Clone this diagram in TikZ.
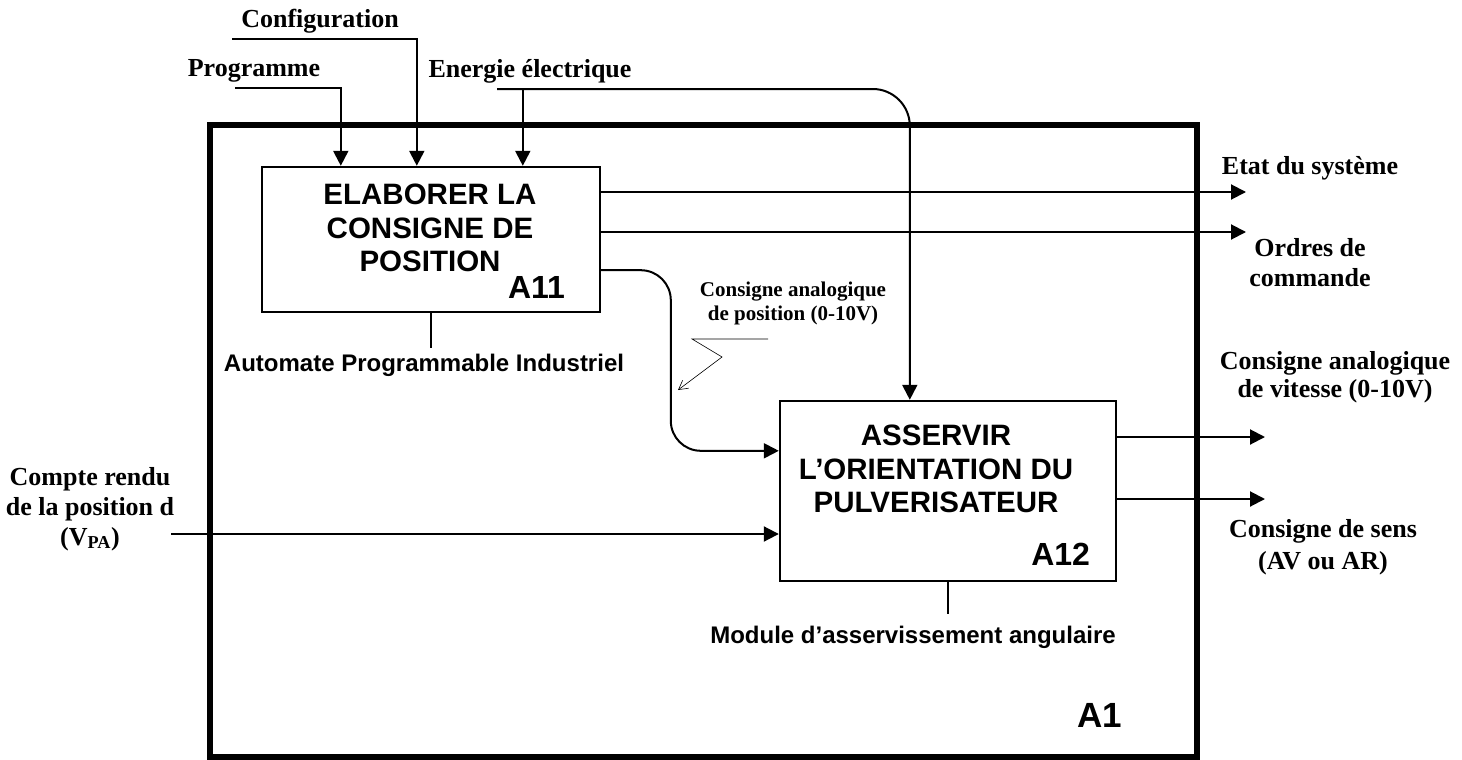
\documentclass[tikz,border=0pt]{standalone}
\usepackage{fontspec}
\setmainfont{Liberation Serif}
\setsansfont{Liberation Sans}
\usetikzlibrary{arrows.meta,calc,positioning}
\tikzset{%
	activity/.style = {draw, rectangle, line width=2.4pt, inner sep=0pt}, % boite A-0
	frame/.style    = {draw, rectangle, line width=6pt, inner sep=0pt}, % cadre A1
	title/.style    = {align=center, font=\sffamily\bfseries\fontsize{29.5}{33.5}\selectfont},
	code/.style     = {inner sep=0pt, font=\sffamily\bfseries\fontsize{32}{36}\selectfont},
	flow/.style     = {align=center, font=\bfseries\fontsize{26}{30}\selectfont},
	mech/.style     = {font=\sffamily\bfseries\fontsize{24}{28}\selectfont},
	note/.style     = {align=center, font=\bfseries\fontsize{21}{24}\selectfont},
	link/.style     = {line width=2pt},
	callout/.style  = {line width=0.6pt, -{Straight Barb[length=9pt,width=10pt]}},
}

\begin{document}
\begin{tikzpicture}[x=1pt,y=-1pt,>={Triangle[length=15pt,width=15pt]}]
	\useasboundingbox (0,0) rectangle (1462,760);

	% cadre et boites
	\node [frame,minimum width=987pt,minimum height=632pt] (a1) at (703.5,441) {};
	\node [code,font=\sffamily\bfseries\fontsize{35}{40}\selectfont,above left=32pt and 78pt of a1.south east] (a1num) {A1};
	\node [activity,minimum width=338pt,minimum height=145pt] (a11) at (431,239.5) {};
	\node [title] (a11txt) at (430,228) {ELABORER LA\\CONSIGNE DE\\POSITION};
	\node [code,above left=15pt and 36pt of a11.south east] (a11num) {A11};
	\node [activity,minimum width=336pt,minimum height=180pt] (a12) at (948,491) {};
	\node [title] (a12txt) at (936,469) {ASSERVIR\\L’ORIENTATION DU\\PULVERISATEUR};
	\node [code,above left=17pt and 27pt of a12.south east] (a12num) {A12};

	% entrees et controles
	\node [flow] (config) at (320,21) {Configuration};
	\node [flow] (prog) at (254,71) {Programme};
	\node [flow] (energie) at (530,71) {Energie électrique};
	\node [flow] (cr) at (90,509) {Compte rendu\\de la position d\\(V\textsubscript{PA})};
	\coordinate (configin) at (232,39);
	\coordinate (progin) at (235,88);
	\coordinate (enin) at (497,89);
	\coordinate (crin) at (171,534);
	\coordinate (p11) at ($(a11.north west)+(80,0)$);
	\coordinate (c11) at ($(a11.north west)+(156,0)$);
	\coordinate (e11) at ($(a11.north west)+(262,0)$);
	\coordinate (e12) at ($(a12.north west)+(131,0)$);

	\draw[link,->] (progin) -| (p11);
	\draw[link,->] (configin) -| (c11);
	\draw[link,->] (enin -| e11) -- (e11);
	\draw[link,->,rounded corners=37pt] (enin) -| (e12);
	\draw[link,->] (crin) -- (crin -| a12.west);

	% sorties
	\node [flow] (etat) at (1310,168) {Etat du système};
	\node [flow] (ordres) at (1310,263) {Ordres de\\commande};
	\node [flow,font=\bfseries\fontsize{26}{28}\selectfont] (vitesse) at (1335,377) {Consigne analogique\\de vitesse (0-10V)};
	\node [flow,font=\bfseries\fontsize{26}{32}\selectfont] (sens) at (1323,547) {Consigne de sens\\(AV ou AR)};
	\coordinate (etatout) at (1246,192);
	\coordinate (ordresout) at (1246,232);
	\coordinate (vitout) at (1265,437);
	\coordinate (sensout) at (1265,499);

	\draw[link,->] (a11.east |- etatout) -- (etatout);
	\draw[link,->] (a11.east |- ordresout) -- (ordresout);
	\draw[link,->] (a12.east |- vitout) -- (vitout);
	\draw[link,->] (a12.east |- sensout) -- (sensout);

	% consigne de position entre A11 et A12
	\coordinate (posout) at ($(a11.south east)+(0,-43)$);
	\coordinate (posturn) at ($(a12.north west)+(-108,51)$);
	\draw[link,->,rounded corners=30pt] (posout) -| (posturn) -- (posturn -| a12.west);
	\node [note] (cpos) at (793,303) {Consigne analogique\\de position (0-10V)};
	\coordinate (k1) at (768,339);
	\coordinate (k2) at (692,339);
	\coordinate (k3) at (722,357);
	\coordinate (k4) at (678,390);
	\draw[callout] (k1) -- (k2) -- (k3) -- (k4);

	% supports
	\node [mech] (api) at (424,365) {Automate Programmable Industriel};
	\node [mech] (module) at (913,637) {Module d’asservissement angulaire};
	\draw[link] (a11.south) -- ++(0,35);
	\draw[link] (a12.south) -- ++(0,32);
\end{tikzpicture}
\end{document}
